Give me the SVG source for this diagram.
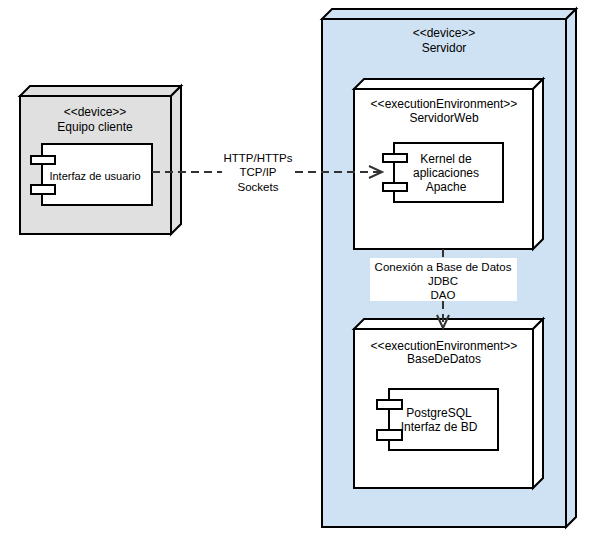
<svg xmlns="http://www.w3.org/2000/svg" width="590" height="548" viewBox="0 0 590 548">
<style>
.n{stroke:#000;stroke-width:2;stroke-linejoin:miter}
.g{fill:#e0e0e0}
.b{fill:#cfe2f3}
.w{fill:#fff}
.t{font-family:"Liberation Sans",Arial,sans-serif;font-size:12px;fill:#000;text-anchor:middle}
.s{font-size:11px}
.m{font-size:11.5px}
.c{stroke:#333;stroke-width:2;fill:none;stroke-dasharray:8 5}
.h{stroke:#333;stroke-width:2;fill:none}
</style>
<rect width="590" height="548" fill="#fff"/>
<g id="equipo-cliente">
<rect class="n g" x="20" y="96" width="151" height="138"/>
<path class="n g" d="M20,96 L30,86 L181,86 L171,96 Z"/>
<path class="n g" d="M171,96 L181,86 L181,224 L171,234 Z"/>
<text class="t" x="95" y="116">&lt;&lt;device&gt;&gt;</text>
<text class="t" x="95" y="131">Equipo cliente</text>
</g>
<g id="interfaz-usuario">
<rect class="n w" x="42" y="144" width="110" height="61"/>
<rect class="n w" x="31" y="156" width="24" height="8"/>
<rect class="n w" x="31" y="185" width="24" height="9"/>
<text class="t s" x="95" y="180">Interfaz de usuario</text>
</g>
<g id="servidor">
<rect class="n b" x="322" y="19" width="244" height="508"/>
<path class="n b" d="M322,19 L332,9 L576,9 L566,19 Z"/>
<path class="n b" d="M566,19 L576,9 L576,517 L566,527 Z"/>
<text class="t" x="444" y="37">&lt;&lt;device&gt;&gt;</text>
<text class="t" x="444" y="52">Servidor</text>
</g>
<g id="servidor-web">
<rect class="n w" x="354" y="89" width="179" height="160"/>
<path class="n w" d="M354,89 L364,79 L543,79 L533,89 Z"/>
<path class="n w" d="M533,89 L543,79 L543,239 L533,249 Z"/>
<text class="t" x="444" y="108">&lt;&lt;executionEnvironment&gt;&gt;</text>
<text class="t" x="444" y="122">ServidorWeb</text>
</g>
<g id="kernel-apache">
<rect class="n w" x="394" y="143" width="109" height="59"/>
<rect class="n w" x="383" y="154" width="24" height="8"/>
<rect class="n w" x="383" y="183" width="24" height="8"/>
<text class="t" x="446" y="163">Kernel de</text>
<text class="t" x="446" y="177">aplicaciones</text>
<text class="t" x="446" y="191">Apache</text>
</g>
<g id="base-de-datos">
<rect class="n w" x="354" y="329" width="179" height="159"/>
<path class="n w" d="M354,329 L364,319 L543,319 L533,329 Z"/>
<path class="n w" d="M533,329 L543,319 L543,478 L533,488 Z"/>
<text class="t" x="444" y="350">&lt;&lt;executionEnvironment&gt;&gt;</text>
<text class="t" x="444" y="363">BaseDeDatos</text>
</g>
<g id="postgresql">
<rect class="n w" x="389" y="389" width="109" height="61"/>
<rect class="n w" x="377" y="400" width="25" height="9"/>
<rect class="n w" x="377" y="430" width="25" height="10"/>
<text class="t" x="439" y="417">PostgreSQL</text>
<text class="t" x="439" y="431">Interfaz de BD</text>
</g>
<g id="connectors">
<line class="c" x1="152" y1="172" x2="381" y2="172"/>
<path class="h" d="M369,166 L382,172 L369,178"/>
<rect x="222" y="151" width="73" height="43" fill="#fff"/>
<text class="t m" x="258" y="162">HTTP/HTTPs</text>
<text class="t m" x="258" y="176">TCP/IP</text>
<text class="t m" x="258" y="191">Sockets</text>
<line class="c" x1="443" y1="249" x2="443" y2="327"/>
<path class="h" d="M437,315 L443,328 L449,315"/>
<rect x="370" y="258" width="147" height="43" fill="#fff"/>
<text class="t m" x="443" y="271">Conexión a Base de Datos</text>
<text class="t m" x="443" y="285">JDBC</text>
<text class="t m" x="443" y="299">DAO</text>
</g>
</svg>
